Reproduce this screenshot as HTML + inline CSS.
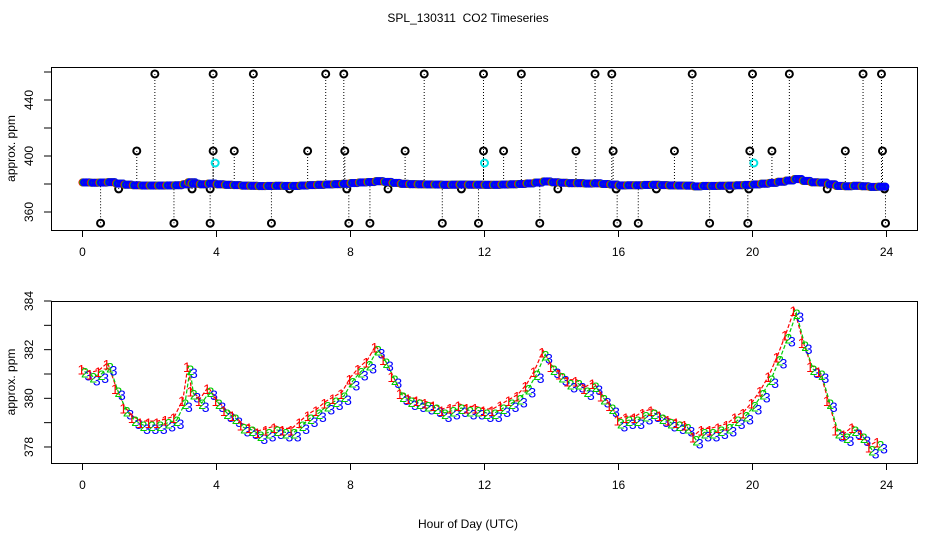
<!DOCTYPE html>
<html><head><meta charset="utf-8"><style>
body{margin:0;background:#fff}
svg text{font-family:"Liberation Sans",sans-serif}
</style></head><body>
<svg id="c" width="936" height="540" xmlns="http://www.w3.org/2000/svg">
<rect width="936" height="540" fill="#fff"/>
<text x="468" y="22" font-size="12" text-anchor="middle" style="white-space:pre">SPL_130311  CO2 Timeseries</text>
<text x="468" y="528" font-size="12" text-anchor="middle">Hour of Day (UTC)</text>
<g id="topPanel"></g>
<g id="botPanel"></g>
</svg>
<script>
const hours=[0,0.25,0.5,0.75,1,1.25,1.5,1.75,2,2.25,2.5,2.75,3,3.15,3.25,3.5,3.75,4,4.25,4.5,4.75,5,5.25,5.5,5.75,6,6.25,6.5,6.75,7,7.25,7.5,7.75,8,8.25,8.5,8.75,9,9.25,9.5,9.75,10,10.25,10.5,10.75,11,11.25,11.5,11.75,12,12.25,12.5,12.75,13,13.25,13.5,13.75,14,14.25,14.5,14.75,15,15.25,15.5,15.75,16,16.25,16.5,16.75,17,17.25,17.5,17.75,18,18.25,18.5,18.75,19,19.25,19.5,19.75,20,20.25,20.5,20.75,21,21.25,21.5,21.75,22,22.25,22.5,22.75,23,23.25,23.5,23.75];
const co2=[381.1,380.9,381.0,381.3,380.3,379.5,379.1,378.9,378.9,378.9,379.0,379.1,379.8,381.2,380.2,379.8,380.3,379.8,379.4,379.2,378.8,378.7,378.5,378.6,378.7,378.6,378.6,378.9,379.2,379.4,379.7,379.9,380.1,380.7,381.1,381.4,382.0,381.5,380.8,380.1,379.9,379.8,379.7,379.6,379.4,379.5,379.6,379.5,379.5,379.4,379.4,379.6,379.8,380.0,380.4,381.0,381.8,381.2,380.9,380.6,380.6,380.3,380.5,380.0,379.6,379.0,379.1,379.1,379.3,379.4,379.2,379.0,378.9,378.8,378.3,378.6,378.6,378.7,378.8,379.1,379.3,379.7,380.2,380.8,381.6,382.5,383.5,382.2,381.2,381.0,379.8,378.6,378.4,378.7,378.4,377.9,378.1];
const highHours=[2.16,3.9,5.1,7.26,7.8,10.2,11.97,13.1,15.3,15.8,18.2,20.0,21.1,23.3,23.85];
const midHours=[1.62,3.9,4.53,6.72,7.83,9.63,11.97,12.57,14.73,15.84,17.67,19.92,20.58,22.77,23.88];
const lowHours=[0.54,2.73,3.81,5.64,7.95,8.58,10.74,11.82,13.65,15.96,16.59,18.72,19.86,23.97];
const nearHours=[1.08,3.27,3.81,6.18,7.89,9.12,11.31,14.19,15.93,17.13,19.32,19.89,22.23,23.94];
const cyanHours=[3.96,12.0,20.04];
const outlierLevels=[458.6,403.6,352,376.5,395];
const xTicks=[0,4,8,12,16,20,24];
const topTicks=[360,380,400,420,440,460];
const topLabels=[360,400,440];
const botTicks=[378,379,380,381,382,383,384];
const botLabels=[378,380,382,384];

const NS="http://www.w3.org/2000/svg";
function mk(p,tag,a){const e=document.createElementNS(NS,tag);for(const k in a)e.setAttribute(k,a[k]);p.appendChild(e);return e;}
const X=h=>82.5+h*33.5;
const Yt=v=>212-(v-360)*1.4;
const Yb=v=>301+(384-v)*24.33;

function frame(g,y0,y1,Y,ticks,labels,name){
  let r=mk(g,'rect',{x:51.5,y:y0+0.5,width:866,height:y1-y0,fill:'none',stroke:'#000'});
  
  
  xTicks.forEach(t=>{
    mk(g,'line',{x1:X(t),x2:X(t),y1:y1,y2:y1+7,stroke:'#000'});
    let tx=mk(g,'text',{x:X(t),y:y1+26,'font-size':12,'text-anchor':'middle'});tx.textContent=t;
    
    
  });
  ticks.forEach(v=>{mk(g,'line',{x1:44,x2:51.5,y1:Y(v),y2:Y(v),stroke:'#000'});});
  labels.forEach(v=>{
    let tx=mk(g,'text',{x:0,y:0,'font-size':12,'text-anchor':'middle',transform:`translate(33,${Y(v)}) rotate(-90)`});tx.textContent=v;
    
    
  });
  let yl=mk(g,'text',{x:0,y:0,'font-size':12,'text-anchor':'middle',transform:`translate(15,${(y0+y1)/2}) rotate(-90)`});yl.textContent='approx. ppm';
  
  
}
const topG=document.getElementById('topPanel'),botG=document.getElementById('botPanel');
frame(topG,67,230,Yt,topTicks,topLabels,'top');
frame(botG,301,463,Yb,botTicks,botLabels,'bottom');

const groups=[highHours,midHours,lowHours,nearHours];
groups.forEach((arr,gi)=>arr.forEach(h=>{
  const v=outlierLevels[gi];
  mk(topG,'line',{x1:X(h),x2:X(h),y1:Yt(v),y2:Yt(381),stroke:'#000','stroke-dasharray':'1,2'});
  let c=mk(topG,'circle',{cx:X(h),cy:Yt(v),r:3.5,fill:'none',stroke:'#000','stroke-width':2});
  
  
}));
cyanHours.forEach(h=>{
  let c=mk(topG,'circle',{cx:X(h),cy:Yt(outlierLevels[4]),r:3.5,fill:'none',stroke:'#00e5e5','stroke-width':2});
  
  
});
const cols=['#f00','#0c0','#00f'];
hours.forEach((h,i)=>{
  for(let k=0;k<3;k++){
    for(let s=0;s<3;s++){
      let c=mk(topG,'circle',{cx:X(h)+s*2.8+k*0.8,cy:Yt(co2[i]),r:2.8,fill:'none',stroke:cols[k],'stroke-width':2.5});
      
      
    }
  }
});
['#f00','#0c0'].forEach((col,k)=>{
  let p=mk(botG,'polyline',{points:hours.map((h,i)=>`${X(h)+k*2},${Yb(co2[i])-(k?0:4)}`).join(' '),fill:'none',stroke:col,'stroke-width':1.2,'stroke-dasharray':'4,2'});
  
  
});
hours.forEach((h,i)=>{
  ['1','2','3'].forEach((d,k)=>{
    let t=mk(botG,'text',{x:X(h)+k*3.5-5,y:Yb(co2[i])+6+(k-1)*3,'font-size':14,fill:cols[k]});t.textContent=d;
    
    
  });
});
</script>
</body></html>
